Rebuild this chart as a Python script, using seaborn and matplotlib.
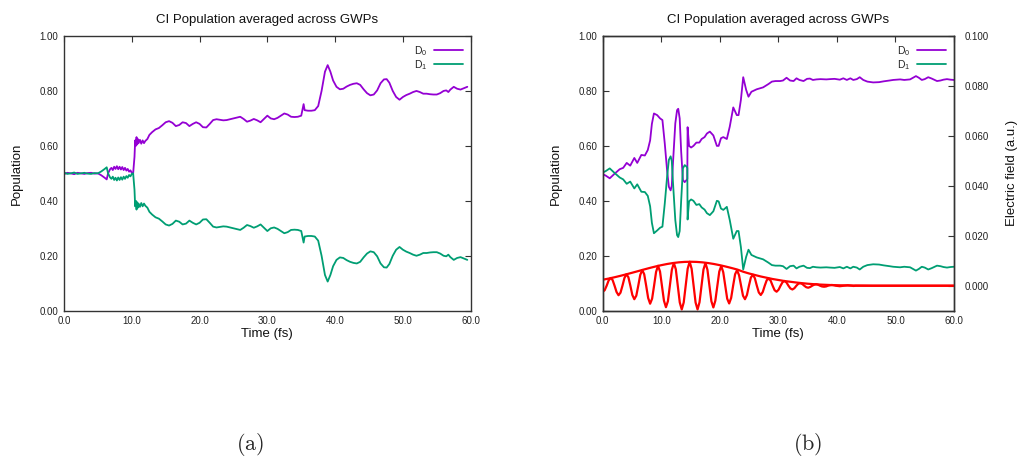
import numpy as np
import pandas as pd
import seaborn as sns
import matplotlib
matplotlib.use("Agg")
import matplotlib.pyplot as plt
from matplotlib.ticker import FormatStrFormatter, MultipleLocator

sns.set_theme(style="white")
plt.rcParams["font.family"] = ["Liberation Sans", "DejaVu Sans"]
plt.rcParams["mathtext.fontset"] = "custom"
plt.rcParams["mathtext.rm"] = "Liberation Sans"
plt.rcParams["mathtext.it"] = "Liberation Sans:italic"
plt.rcParams["mathtext.default"] = "rm"

# ---------------- data: panel (a) ----------------
left_t = [0.0, 0.5, 1.0, 1.5, 2.0, 2.5, 3.0, 3.5, 4.0, 4.5, 5.0, 5.5, 6.0, 6.3, 6.5, 6.8,
          7.0, 7.2, 7.4, 7.6, 7.8, 8.0, 8.2, 8.4, 8.6, 8.8, 9.0, 9.2, 9.4, 9.6, 9.8, 10.0,
          10.2, 10.4, 10.5, 10.6, 10.7, 10.8, 10.9, 11.0, 11.2, 11.4, 11.6, 11.8, 12.0, 12.3,
          12.6, 13.0, 13.5, 14.0, 14.5, 15.0, 15.5, 16.0, 16.5, 17.0, 17.5, 18.0, 18.5, 19.0,
          19.5, 20.0, 20.5, 21.0, 21.5, 22.0, 22.5, 23.0, 23.5, 24.0, 24.5, 25.0, 25.5, 26.0,
          26.5, 27.0, 27.5, 28.0, 28.5, 29.0, 29.5, 30.0, 30.5, 31.0, 31.5, 32.0, 32.5, 33.0,
          33.5, 34.0, 34.5, 35.0, 35.2, 35.35, 35.5, 36.0, 36.5, 37.0, 37.5, 38.0, 38.5, 38.9,
          39.3, 39.7, 40.2, 40.7, 41.2, 41.7, 42.2, 42.7, 43.2, 43.7, 44.2, 44.7, 45.2, 45.7,
          46.2, 46.7, 47.2, 47.6, 48.0, 48.5, 49.0, 49.5, 50.0, 50.5, 51.0, 51.5, 52.0, 52.5,
          53.0, 53.5, 54.0, 54.5, 55.0, 55.5, 56.0, 56.4, 56.7, 57.0, 57.5, 58.0, 58.5, 59.0, 59.5]
left_d0 = [.497, .502, .500, .497, .502, .500, .498, .501, .502, .499, .500, .493, .484, .478, .500, .515,
           .520, .512, .524, .516, .526, .515, .524, .514, .523, .512, .520, .510, .516, .506, .511, .502,
           .500, .560, .620, .600, .632, .605, .625, .610, .622, .608, .620, .610, .618, .625,
           .640, .650, .660, .665, .675, .686, .690, .684, .672, .676, .686, .683, .672, .680,
           .686, .680, .668, .667, .680, .694, .697, .695, .693, .694, .697, .700, .703, .706,
           .698, .688, .692, .698, .693, .686, .698, .710, .700, .697, .702, .710, .718, .714,
           .706, .705, .706, .710, .735, .752, .730, .728, .728, .730, .745, .800, .870, .894,
           .870, .838, .815, .806, .808, .816, .822, .826, .828, .822, .806, .792, .784, .787,
           .802, .828, .842, .843, .830, .800, .778, .768, .778, .785, .790, .796, .800, .796,
           .790, .790, .788, .787, .787, .792, .800, .802, .796, .805, .815, .808, .805, .810, .815]
left_d1 = [.503, .498, .500, .503, .498, .500, .502, .499, .498, .501, .500, .507, .516, .522, .500, .485,
           .480, .488, .476, .484, .474, .485, .476, .486, .477, .488, .480, .490, .484, .494, .489, .498,
           .500, .440, .380, .400, .368, .395, .375, .390, .378, .392, .380, .390, .382, .375,
           .360, .350, .340, .335, .325, .314, .310, .316, .328, .324, .314, .317, .328, .320,
           .314, .320, .332, .333, .320, .306, .303, .305, .307, .306, .303, .300, .297, .294,
           .302, .312, .308, .302, .307, .314, .302, .290, .300, .303, .298, .290, .282, .286,
           .294, .295, .294, .290, .265, .248, .270, .272, .272, .270, .255, .200, .130, .106,
           .130, .162, .185, .194, .192, .184, .178, .174, .172, .178, .194, .208, .216, .213,
           .198, .172, .158, .157, .170, .200, .222, .232, .222, .215, .210, .204, .200, .204,
           .210, .210, .212, .213, .213, .208, .200, .198, .204, .195, .185, .192, .195, .190, .185]

# ---------------- data: panel (b) ----------------
right_t = [0.0, 0.5, 1.2, 2.0, 2.9, 3.5, 4.1, 4.7, 5.4, 5.9, 6.6, 7.2, 7.7, 8.1, 8.4, 8.75,
           9.3, 9.8, 10.2, 10.6, 11.0, 11.3, 11.6, 11.8, 12.0, 12.4, 12.7, 12.9, 13.15, 13.4,
           13.7, 14.0, 14.3, 14.45, 14.5, 14.6, 14.75, 15.1, 15.5, 16.0, 16.5, 16.9, 17.4, 17.8,
           18.3, 18.9, 19.5, 19.8, 20.2, 20.6, 21.2, 21.7, 22.3, 22.9, 23.2, 23.6, 24.0, 24.5,
           24.9, 25.4, 26.3, 27.4, 28.3, 28.9, 29.5, 30.3, 30.8, 31.4, 32.0, 32.6, 33.1, 33.6,
           34.3, 34.9, 35.4, 35.9, 36.5, 37.2, 38.2, 38.8, 39.6, 40.5, 41.1, 41.7, 42.3, 42.8,
           43.4, 43.9, 44.5, 45.2, 46.2, 47.2, 48.0, 49.0, 49.6, 50.8, 51.5, 52.5, 53.0, 53.5,
           54.0, 54.5, 55.0, 55.6, 56.2, 57.1, 57.7, 58.2, 58.8, 59.4, 60.0]
right_d0 = [.497, .492, .482, .498, .515, .520, .538, .528, .556, .538, .567, .565, .585, .620, .680, .718,
            .712, .700, .694, .609, .510, .451, .438, .455, .537, .682, .730, .735, .700, .580,
            .476, .468, .475, .480, .668, .640, .600, .594, .600, .612, .612, .625, .632, .645,
            .652, .638, .600, .600, .628, .632, .625, .670, .740, .712, .712, .767, .850, .804,
            .779, .797, .806, .813, .825, .834, .836, .836, .838, .848, .838, .836, .846, .840,
            .836, .844, .845, .840, .842, .843, .842, .843, .844, .841, .846, .840, .846, .840,
            .843, .850, .840, .834, .831, .832, .835, .838, .840, .842, .840, .842, .848, .854,
            .848, .840, .843, .850, .845, .836, .838, .841, .843, .841, .840]
right_d1 = [.503, .508, .518, .502, .485, .478, .462, .470, .445, .460, .433, .432, .418, .380, .320, .282,
            .292, .302, .306, .390, .488, .549, .562, .545, .468, .330, .275, .268, .290, .400,
            .518, .530, .525, .520, .332, .360, .398, .405, .400, .385, .388, .376, .368, .355,
            .348, .362, .400, .398, .372, .367, .378, .330, .262, .290, .290, .232, .150, .196,
            .222, .203, .194, .187, .175, .166, .164, .164, .162, .152, .162, .164, .154, .160,
            .164, .156, .155, .160, .158, .157, .158, .157, .156, .159, .154, .160, .154, .160,
            .157, .150, .160, .166, .169, .168, .165, .162, .160, .158, .160, .158, .152, .146,
            .152, .160, .157, .150, .155, .164, .162, .159, .157, .159, .160]

# electric field (a.u.), sampled every 0.3375 fs, then flat tail
field_vals = [-.0024, -.0018, 0, .0021, .0031, .0023, 0, -.0025,
              -.0038, -.0028, 0, .0031, .0046, .0034, 0, -.0037,
              -.0054, -.0040, 0, .0043, .0063, .0046, 0, -.0049,
              -.0072, -.0052, 0, .0055, .0080, .0057, 0, -.0060,
              -.0086, -.0062, 0, .0064, .0091, .0066, 0, -.0067,
              -.0095, -.0067, 0, .0068, .0096, .0068, 0, -.0067,
              -.0095, -.0066, 0, .0065, .0091, .0064, 0, -.0062,
              -.0087, -.0060, 0, .0057, .0079, .0054, 0, -.0052,
              -.0071, -.0049, 0, .0046, .0062, .0042, 0, -.0040,
              -.0054, -.0037, 0, .0033, .0044, .0030, 0, -.0027,
              -.0037, -.0025, 0, .0022, .0029, .0020, 0, -.0018,
              -.0024, -.0016, 0, .0014, .0019, .0013, 0, -.0011,
              -.0015, -.0010, 0, .0008, .0010, .0007, 0, -.0006,
              -.0008, -.0005, 0, .0004, .0006, .0004, 0, -.0003,
              -.0004, -.0003, 0, .0002, .0003, .0002, 0, -.0001,
              -.0002, -.0001, 0, .0001, .0002, .0001, 0, -.0001,
              0.0, 0.0]
field_t = list(np.arange(128) * 0.3375) + [43.2, 60.0]

env_t = list(range(61))
env_vals = [.0024, .00286, .00338, .00395, .00455, .00518, .00582, .00647, .0071, .00769,
            .00823, .0087, .00908, .00937, .00954, .0096, .00954, .00937, .00908, .0087,
            .00823, .00769, .0071, .00647, .0056, .0049, .0043, .0037, .0032, .0027,
            .0023, .0019, .0016, .0013, .00104, .00081, .00063, .00048, .00037, .00027,
            .0002, .00015, .0001, .00007, .00005, .00003] + [0.0] * 15

x_ticks = [0, 10, 20, 30, 40, 50, 60]
title = "CI Population averaged across GWPs"

PURPLE = "#9400D3"
GREEN = "#009E73"
RED = "#FF0000"
EDGE = "#333333"

W, H = 1018, 459
fig = plt.figure(figsize=(W / 100, H / 100), dpi=100)
axL = fig.add_axes([64 / W, 1 - 310.7 / H, (470.7 - 64) / W, 274.7 / H])
axR = fig.add_axes([602.7 / W, 1 - 310.7 / H, (954 - 602.7) / W, 274.7 / H])


def style(ax):
    ax.set_xlim(0, 60)
    ax.set_ylim(0, 1)
    ax.set_xticks(x_ticks)
    ax.xaxis.set_major_formatter(FormatStrFormatter("%.1f"))
    ax.yaxis.set_major_locator(MultipleLocator(0.2))
    ax.yaxis.set_major_formatter(FormatStrFormatter("%.2f"))
    ax.tick_params(direction="in", length=4, width=0.8, color=EDGE, labelsize=7,
                   labelcolor="#222222", pad=4, top=True, right=True)
    for s in ax.spines.values():
        s.set_color(EDGE)
        s.set_linewidth(1.0)
    ax.set_xlabel("Time (fs)", fontsize=9.5, labelpad=1, color="#111111")
    ax.set_ylabel("Population", fontsize=9.5, labelpad=12, color="#111111")
    ax.set_title(title, fontsize=9.5, pad=9, color="#111111")
    ax.grid(False)


dfL = pd.DataFrame({"t": left_t, "D0": left_d0, "D1": left_d1})
dfR = pd.DataFrame({"t": right_t, "D0": right_d0, "D1": right_d1})

for ax, df in ((axL, dfL), (axR, dfR)):
    sns.lineplot(data=df, x="t", y="D0", ax=ax, color=PURPLE, lw=1.3, label="D$_0$",
                 estimator=None, sort=False)
    sns.lineplot(data=df, x="t", y="D1", ax=ax, color=GREEN, lw=1.3, label="D$_1$",
                 estimator=None, sort=False)
    style(ax)
    ax.legend(loc="upper right", frameon=False, markerfirst=False, fontsize=7.5,
              handlelength=2.8, labelspacing=0.05, borderaxespad=0.35, handletextpad=0.6)

axE = axR.twinx()
dfE = pd.DataFrame({"t": field_t, "E": field_vals})
dfEnv = pd.DataFrame({"t": env_t, "E": env_vals})
sns.lineplot(data=dfEnv, x="t", y="E", ax=axE, color=RED, lw=1.6, estimator=None, sort=False)
sns.lineplot(data=dfE, x="t", y="E", ax=axE, color=RED, lw=1.6, estimator=None, sort=False)
axE.set_xlim(0, 60)
axE.set_ylim(-0.010, 0.100)
axE.set_yticks([0.0, 0.02, 0.04, 0.06, 0.08, 0.10])
axE.yaxis.set_major_formatter(FormatStrFormatter("%.3f"))
axE.tick_params(axis="y", direction="in", length=4, width=0.8, color=EDGE, labelsize=7,
                labelcolor="#222222", pad=8)
axE.set_ylabel("Electric field (a.u.)", fontsize=9.5, labelpad=12, color="#111111")
axE.grid(False)
for s in axE.spines.values():
    s.set_color(EDGE)
    s.set_linewidth(1.0)

fig.text(250 / W, 1 - 445 / H, r"$\mathrm{(a)}$", math_fontfamily="cm", fontsize=16,
         ha="center", va="center")
fig.text(808 / W, 1 - 445 / H, r"$\mathrm{(b)}$", math_fontfamily="cm", fontsize=16,
         ha="center", va="center")

fig.savefig("out.png", dpi=100, facecolor="white")
